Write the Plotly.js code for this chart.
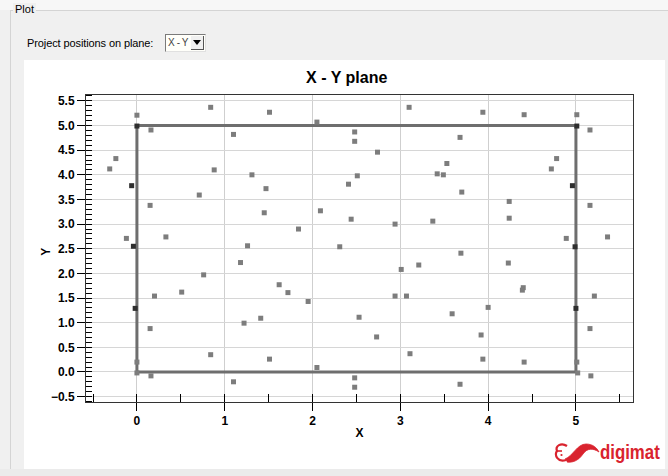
<!DOCTYPE html>
<html>
<head>
<meta charset="utf-8">
<script src="https://cdn.plot.ly/plotly-3.0.1.min.js"></script>
<style>
  html, body { margin:0; padding:0; }
  body { width:668px; height:476px; background:#f0f0f0; position:relative; overflow:hidden; font-family:"Liberation Sans", Arial, sans-serif; }
  #topstrip { position:absolute; left:0; top:0; width:668px; height:10px; background:#f7f7f7; }
  #group { position:absolute; left:10px; top:10px; width:680px; height:480px; border-left:1px solid #d4d4d4; border-top:1px solid #d4d4d4; box-sizing:border-box; }
  #grouplabel { position:absolute; left:13px; top:3px; font-size:11px; color:#000; background:#f0f0f0; padding:0 2px; }
  #projlabel { position:absolute; left:27px; top:37px; font-size:11px; color:#000; letter-spacing:-0.1px; }
  #combo { position:absolute; left:165px; top:34px; width:41px; height:18px; background:#fffffa; border-top:1px solid #7a7a7a; border-left:1px solid #7a7a7a; border-right:1px solid #e0e0e0; border-bottom:1px solid #e0e0e0; box-sizing:border-box; font-size:10px; color:#444; }
  #combo span { position:absolute; left:2px; top:2px; letter-spacing:-0.4px; }
  #combo .btn { position:absolute; right:1px; top:1px; width:13px; height:14px; background:#f0f0f0; border-right:1px solid #555; border-bottom:1px solid #555; box-sizing:border-box; }
  #combo .arr { position:absolute; left:2px; top:4px; width:0; height:0; border-left:4px solid transparent; border-right:4px solid transparent; border-top:5px solid #000; }
  #panel { position:absolute; left:24px; top:60px; width:641px; height:409px; background:#ffffff; }
  #bottomstrip { position:absolute; left:0; top:469px; width:668px; height:7px; background:#ebebeb; }
  #plot { position:absolute; left:0; top:0; width:668px; height:476px; }
  #logo { position:absolute; left:553px; top:438px; width:115px; height:30px; }
  #logotext { position:absolute; left:600px; top:441px; font-family:"Liberation Sans",Arial,sans-serif; font-weight:bold; font-size:20px; color:#d9232e; transform:scaleX(0.84); transform-origin:left top; white-space:nowrap; }
</style>
</head>
<body>
<div id="topstrip"></div>
<div id="group"></div>
<div id="grouplabel">Plot</div>
<div id="projlabel">Project positions on plane:</div>
<div id="combo"><span>X - Y</span><div class="btn"><div class="arr"></div></div></div>
<div id="panel"></div>
<div id="bottomstrip"></div>
<svg id="logo" viewBox="0 0 115 30">
  <path d="M14 8 C8 4, 2 8, 4 13 C1 17, 5 25, 13 22" fill="none" stroke="#d9232e" stroke-width="2.2"/>
  <path d="M4 13 L9 13" stroke="#d9232e" stroke-width="1.6"/>
  <circle cx="8.5" cy="17" r="1.1" fill="#d9232e"/>
  <path d="M12 21 C20 18, 24 6, 33 6 C40 6, 44 10, 46 14 C40 10, 34 10, 30 16 C26 22, 20 25, 14 24" fill="#d9232e" stroke="#d9232e" stroke-width="0.8"/>
</svg>
<div id="logotext">digimat</div>
<div id="plot"></div>
<script>
// Projected positions (grey markers)
const ptX = [-0.31,-0.24,-0.12,0.00,0.00,0.00,0.16,0.15,0.15,0.16,0.20,0.33,0.51,0.71,0.76,0.84,0.84,0.88,1.10,1.10,
             1.18,1.22,1.26,1.31,1.41,1.45,1.47,1.51,1.51,1.62,1.72,1.84,1.95,2.05,2.05,2.09,2.31,2.41,2.44,2.48,
             2.48,2.48,2.48,2.51,2.53,2.73,2.74,2.94,2.94,3.01,3.07,3.10,3.11,3.21,3.37,3.42,3.49,3.53,3.59,3.68,
             3.68,3.69,3.70,3.92,3.94,3.94,4.00,4.23,4.24,4.24,4.39,4.40,4.41,4.41,4.72,4.78,4.89,5.01,5.01,5.02,
             5.16,5.16,5.16,5.17,5.21,5.36];
const ptY = [4.12,4.33,2.71,5.21,0.20,-0.02,4.91,3.38,0.88,-0.08,1.54,2.74,1.62,3.59,1.97,0.35,5.37,4.10,4.82,-0.20,
             2.22,0.99,2.56,4.00,1.09,3.23,3.72,5.27,0.26,1.77,1.61,2.90,1.43,5.07,0.09,3.27,2.54,3.81,3.10,4.87,
             4.68,-0.12,-0.31,3.98,1.11,0.71,4.46,3.00,1.54,2.08,1.54,5.37,0.37,2.17,3.06,4.02,4.00,4.23,1.18,4.76,
             -0.25,2.41,3.65,0.75,5.27,0.26,1.31,2.21,3.46,3.12,1.66,1.71,5.22,0.20,4.12,4.33,2.71,5.22,0.20,-0.02,
             4.91,3.38,0.88,-0.08,1.54,2.74];
// Highlighted positions (dark markers)
const darkX = [0.00,-0.06,-0.04,-0.02,5.01,4.96,4.99,5.00];
const darkY = [4.99,3.78,2.55,1.29,4.99,3.78,2.54,1.29];
// Domain outline
const boxX = [0,5,5,0,0];
const boxY = [0,0,5,5,0];

const traces = [
  {x:boxX, y:boxY, type:'scatter', mode:'lines', line:{color:'#6e6e6e', width:3}, hoverinfo:'skip', showlegend:false},
  {x:ptX, y:ptY, type:'scatter', mode:'markers', marker:{symbol:'square', size:5, color:'#7d7d7d'}, showlegend:false},
  {x:darkX, y:darkY, type:'scatter', mode:'markers', marker:{symbol:'square', size:5, color:'#2e2e2e'}, showlegend:false}
];

const fam = 'Liberation Sans, Arial, sans-serif';
const tickFont = {family:fam, size:12, color:'#000', weight:'bold'};
const layout = {
  width:668, height:476,
  margin:{l:86, r:35, t:95, b:74},
  paper_bgcolor:'rgba(0,0,0,0)',
  plot_bgcolor:'#ffffff',
  showlegend:false,
  title:{text:'<b>X - Y plane</b>', font:{family:fam, size:16, color:'#000'},
         xref:'container', x:0.519, xanchor:'center', yref:'container', y:0.838, yanchor:'middle'},
  xaxis:{
    range:[-0.58, 5.65], dtick:1, tick0:0, tickformat:'d',
    showgrid:true, gridcolor:'#cfcfcf', gridwidth:1, zeroline:false,
    showline:true, linecolor:'#333', linewidth:1, mirror:true,
    ticks:'outside', ticklen:8, tickcolor:'#000', tickwidth:1,
    minor:{dtick:0.5, tick0:0, ticks:'inside', ticklen:8, tickcolor:'#000', showgrid:false},
    tickfont:tickFont,
    title:{text:'<b>X</b>', font:{family:fam, size:12, color:'#000'}, standoff:1}
  },
  yaxis:{
    range:[-0.61, 5.62], dtick:0.5, tick0:0, tickformat:'.1f',
    showgrid:true, gridcolor:'#d6d6d6', gridwidth:1, zeroline:false,
    showline:true, linecolor:'#333', linewidth:1, mirror:true,
    ticks:'outside', ticklen:8, tickcolor:'#000', tickwidth:1,
    minor:{dtick:0.1, tick0:0, ticks:'inside', ticklen:6, tickcolor:'#000', showgrid:false},
    tickfont:tickFont
  },
  annotations:[
    {text:'<b>Y</b>', xref:'paper', yref:'paper', x:-0.073, y:0.49, xanchor:'center', yanchor:'middle',
     textangle:-90, showarrow:false, font:{family:fam, size:12, color:'#000'}}
  ]
};
Plotly.newPlot('plot', traces, layout, {staticPlot:true, displayModeBar:false});
</script>
</body>
</html>
